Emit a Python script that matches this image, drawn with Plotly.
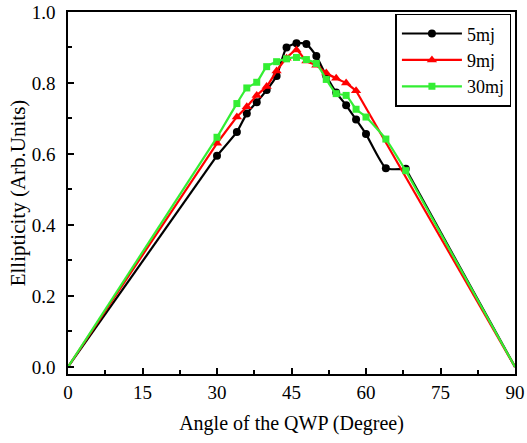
import plotly.graph_objects as go

# Data
x_5mj = [0, 30, 34, 36, 38, 40, 42, 44, 46, 48, 50, 52, 54, 56, 58, 60, 64, 68, 90]
y_5mj = [0.0, 0.595, 0.662, 0.714, 0.746, 0.780, 0.820, 0.900, 0.912, 0.910, 0.876, 0.820,
         0.773, 0.737, 0.697, 0.656, 0.560, 0.558, 0.0]

x_9mj = [0, 30, 34, 36, 38, 40, 42, 44, 46, 48, 50, 52, 54, 56, 58, 90]
y_9mj = [0.0, 0.630, 0.704, 0.733, 0.765, 0.790, 0.834, 0.870, 0.893, 0.862, 0.850, 0.828,
         0.813, 0.800, 0.778, 0.0]

x_30mj = [0, 30, 34, 36, 38, 40, 42, 44, 46, 48, 50, 52, 54, 56, 58, 60, 64, 68, 90]
y_30mj = [0.0, 0.647, 0.742, 0.786, 0.802, 0.846, 0.860, 0.868, 0.872, 0.866, 0.855, 0.810,
          0.770, 0.765, 0.726, 0.704, 0.642, 0.553, 0.0]

x_ticks = [0, 15, 30, 45, 60, 75, 90]
y_ticks = [0.0, 0.2, 0.4, 0.6, 0.8, 1.0]

FONT = "Liberation Serif, Times New Roman, serif"

series = [
    ("5mj", x_5mj, y_5mj, "black", "circle", 8),
    ("9mj", x_9mj, y_9mj, "#ff0000", "triangle-up", 9),
    ("30mj", x_30mj, y_30mj, "#33ee33", "square", 7),
]

fig = go.Figure()
for name, xs, ys, color, sym, msize in series:
    # straight extensions to the zero end points
    fig.add_trace(go.Scatter(
        x=xs[:2], y=ys[:2], mode="lines", showlegend=False, hoverinfo="skip",
        line=dict(color=color, width=2.2),
    ))
    fig.add_trace(go.Scatter(
        x=xs[-2:], y=ys[-2:], mode="lines", showlegend=False, hoverinfo="skip",
        line=dict(color=color, width=2.2),
    ))
    # measured points, smoothed line
    fig.add_trace(go.Scatter(
        x=xs[1:-1], y=ys[1:-1], name=name, mode="lines+markers",
        line=dict(color=color, width=2.2, shape="spline", smoothing=0.5),
        marker=dict(symbol=sym, size=msize, color=color),
    ))

axis_common = dict(
    showline=True, linecolor="black", linewidth=1.5, mirror=True,
    ticks="inside", ticklen=6, tickwidth=1.5, tickcolor="black",
    showgrid=False, zeroline=False,
    tickfont=dict(family=FONT, size=19, color="black"),
)

fig.update_xaxes(
    range=[0, 90], tickvals=x_ticks, ticktext=[str(v) for v in x_ticks],
    minor=dict(ticks="inside", ticklen=4, tickwidth=1.5, tickcolor="black", dtick=7.5, tick0=0),
    title=dict(text="Angle of the QWP (Degree)", font=dict(family=FONT, size=20, color="black"),
               standoff=14),
    automargin="bottom",
    **axis_common,
)
fig.update_yaxes(
    range=[-0.02, 1.0], tickvals=y_ticks, ticktext=[f"{v:.1f}" for v in y_ticks],
    minor=dict(ticks="inside", ticklen=4, tickwidth=1.5, tickcolor="black", dtick=0.1, tick0=0),
    title=dict(text="Ellipticity (Arb.Units)", font=dict(family=FONT, size=21, color="black"),
               standoff=0),
    ticklabelstandoff=7,
    automargin="left",
    **axis_common,
)

fig.update_layout(
    width=527, height=443,
    margin=dict(l=68, r=12, t=12, b=66),
    plot_bgcolor="white", paper_bgcolor="white",
    font=dict(family=FONT, color="black"),
    legend=dict(
        x=0.992, y=0.995, xanchor="right", yanchor="top",
        bgcolor="white", bordercolor="black", borderwidth=1.5,
        font=dict(family=FONT, size=18, color="black"),
        itemwidth=60, tracegroupgap=0,
    ),
    showlegend=True,
)

fig.write_html("out.html", config={"displayModeBar": False},
               post_script="document.body.style.margin='0px';")
